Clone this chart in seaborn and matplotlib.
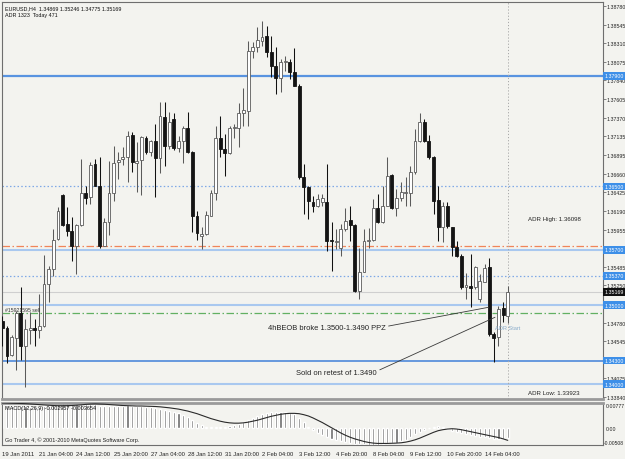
import numpy as np
import pandas as pd
import matplotlib
matplotlib.use("Agg")
import matplotlib.pyplot as plt
import matplotlib.transforms as mtransforms
import seaborn as sns

# ---------------- data (EURUSD H4) ----------------
opens = [1.34804, 1.34707, 1.34370, 1.34581, 1.34901, 1.34488, 1.34690, 1.34707, 1.34690, 1.34733,
         1.35267, 1.35457, 1.35836, 1.36392, 1.36026, 1.35941, 1.35743, 1.36017, 1.36418, 1.36367,
         1.36780, 1.36510, 1.35752, 1.36055, 1.36413, 1.36814, 1.36847, 1.36873, 1.37151, 1.36797,
         1.36830, 1.37108, 1.36940, 1.37079, 1.36856, 1.37382, 1.37016, 1.37353, 1.36982, 1.37071,
         1.37239, 1.36932, 1.36131, 1.35878, 1.35895, 1.36131, 1.36418, 1.37108, 1.36974, 1.36923,
         1.37235, 1.37243, 1.37429, 1.37458, 1.38217, 1.38268, 1.38344, 1.38399, 1.38205, 1.38019,
         1.37868, 1.38070, 1.38078, 1.37952, 1.37775, 1.36616, 1.36490, 1.36309, 1.36258, 1.36300,
         1.36309, 1.35824, 1.35803, 1.35719, 1.35963, 1.36077, 1.36014, 1.35184, 1.35424, 1.35816,
         1.35829, 1.36225, 1.36048, 1.36258, 1.36646, 1.36233, 1.36359, 1.36414, 1.36414, 1.36680,
         1.37071, 1.37312, 1.37080, 1.36878, 1.36330, 1.35985, 1.36250, 1.35993, 1.35732, 1.35626,
         1.35226, 1.35247, 1.35226, 1.35079, 1.35298, 1.35479, 1.34636, 1.34594, 1.34961, 1.34869]
highs = [1.34867, 1.34733, 1.34623, 1.34930, 1.35234, 1.34825, 1.34918, 1.34825, 1.35141, 1.35634,
         1.35499, 1.35963, 1.36236, 1.36405, 1.36236, 1.36110, 1.36026, 1.36847, 1.36510, 1.36814,
         1.36847, 1.36868, 1.36097, 1.36826, 1.37016, 1.36932, 1.36995, 1.37205, 1.37184, 1.37066,
         1.37142, 1.37142, 1.37092, 1.37290, 1.37563, 1.37563, 1.37437, 1.37429, 1.37142, 1.37260,
         1.37446, 1.36948, 1.36194, 1.35984, 1.36194, 1.36460, 1.37269, 1.37395, 1.37163, 1.37269,
         1.37285, 1.37555, 1.37741, 1.38343, 1.38323, 1.38512, 1.38597, 1.38533, 1.38407, 1.38260,
         1.38112, 1.38154, 1.38112, 1.38247, 1.37796, 1.36785, 1.36511, 1.36385, 1.36406, 1.36406,
         1.36785, 1.36048, 1.35963, 1.36027, 1.36225, 1.36258, 1.36027, 1.35719, 1.35963, 1.35972,
         1.36343, 1.36406, 1.36511, 1.36869, 1.36659, 1.36469, 1.36553, 1.36616, 1.36764, 1.37227,
         1.37430, 1.37354, 1.37152, 1.36890, 1.36511, 1.36300, 1.36309, 1.35993, 1.35816, 1.35647,
         1.35403, 1.35647, 1.35500, 1.35395, 1.35521, 1.35593, 1.34657, 1.34986, 1.35045, 1.35246]
lows = [1.34488, 1.34269, 1.34362, 1.34185, 1.34311, 1.33961, 1.34509, 1.34480, 1.34581, 1.34724,
        1.35044, 1.35373, 1.35828, 1.36005, 1.35878, 1.35562, 1.35394, 1.36005, 1.36274, 1.36279,
        1.36502, 1.35718, 1.35743, 1.35887, 1.36321, 1.36594, 1.36771, 1.36561, 1.36687, 1.36434,
        1.36392, 1.36910, 1.36889, 1.36363, 1.36670, 1.36763, 1.36974, 1.36965, 1.36940, 1.36797,
        1.36923, 1.35929, 1.35828, 1.35710, 1.35887, 1.36123, 1.36333, 1.36868, 1.36628, 1.36906,
        1.37108, 1.36995, 1.37269, 1.37265, 1.38120, 1.38196, 1.38281, 1.38133, 1.37880, 1.37670,
        1.37699, 1.37965, 1.37859, 1.37767, 1.36595, 1.36153, 1.36090, 1.36174, 1.36237, 1.36258,
        1.35690, 1.35437, 1.35711, 1.35626, 1.35942, 1.35816, 1.35163, 1.35079, 1.35416, 1.35723,
        1.35816, 1.36039, 1.36039, 1.36250, 1.36216, 1.36124, 1.36322, 1.36258, 1.36258, 1.36659,
        1.37059, 1.37067, 1.36848, 1.36153, 1.35808, 1.35795, 1.35976, 1.35618, 1.35605, 1.35205,
        1.35079, 1.34973, 1.35205, 1.35037, 1.35289, 1.34615, 1.34278, 1.34489, 1.34784, 1.34775]
closes = [1.34707, 1.34362, 1.34593, 1.34901, 1.34480, 1.34699, 1.34715, 1.34682, 1.34733, 1.35267,
          1.35457, 1.35828, 1.36194, 1.36013, 1.35941, 1.35743, 1.36017, 1.36418, 1.36359, 1.36771,
          1.36510, 1.35752, 1.36055, 1.36413, 1.36797, 1.36839, 1.36873, 1.37134, 1.36805, 1.36822,
          1.37121, 1.36940, 1.37079, 1.36856, 1.37387, 1.37007, 1.37311, 1.36982, 1.37071, 1.37235,
          1.36932, 1.36131, 1.35912, 1.35904, 1.36140, 1.36418, 1.37108, 1.36974, 1.36923, 1.37239,
          1.37252, 1.37429, 1.37467, 1.38217, 1.38260, 1.38352, 1.38394, 1.38205, 1.38019, 1.37868,
          1.38070, 1.38091, 1.37952, 1.37775, 1.36616, 1.36490, 1.36322, 1.36258, 1.36343, 1.36351,
          1.35816, 1.35812, 1.35816, 1.35963, 1.36069, 1.36014, 1.35184, 1.35424, 1.35816, 1.35829,
          1.36225, 1.36048, 1.36258, 1.36637, 1.36229, 1.36351, 1.36427, 1.36427, 1.36680, 1.37071,
          1.37312, 1.37080, 1.36869, 1.36322, 1.35985, 1.36250, 1.36006, 1.35732, 1.35626, 1.35226,
          1.35256, 1.35214, 1.35479, 1.35310, 1.35466, 1.34636, 1.34582, 1.34952, 1.34877, 1.35169]

macd_main = [0.0074, 0.0072, 0.0070, 0.0070, 0.0069, 0.0067, 0.0066, 0.0065, 0.0065, 0.0067,
             0.0069, 0.0072, 0.0075, 0.0077, 0.0077, 0.0075, 0.0075, 0.0076, 0.0075, 0.0076,
             0.0074, 0.0069, 0.0067, 0.0067, 0.0069, 0.0069, 0.0070, 0.0071, 0.0069, 0.0068,
             0.0068, 0.0066, 0.0064, 0.0061, 0.0060, 0.0056, 0.0054, 0.0050, 0.0046, 0.0042,
             0.0036, 0.0026, 0.0016, 0.0009, 0.0005, 0.0003, 0.0003, 0.0003, 0.0004, 0.0007,
             0.0010, 0.0014, 0.0020, 0.0026, 0.0033, 0.0039, 0.0045, 0.0048, 0.0050, 0.0051,
             0.0050, 0.0049, 0.0047, 0.0044, 0.0032, 0.0019, 0.0005, -0.0006, -0.0014, -0.0020,
             -0.0027, -0.0032, -0.0035, -0.0039, -0.0042, -0.0046, -0.0048, -0.0049, -0.0049, -0.0050,
             -0.00508, -0.0050, -0.0048, -0.0046, -0.0045, -0.0044, -0.0040, -0.0034, -0.0026, -0.0018,
             -0.0010, -0.0005, 0.0001, 0.0005, 0.0006, 0.0003, -0.0003, -0.0007, -0.0010, -0.0014,
             -0.0018, -0.0020, -0.0023, -0.0025, -0.0026, -0.0029, -0.0032, -0.0033, -0.0032, -0.002957]
macd_signal = [0.00777, 0.00774, 0.00770, 0.00766, 0.00762, 0.00756, 0.00748, 0.00738, 0.00728, 0.00718,
               0.00708, 0.00700, 0.00695, 0.00695, 0.00697, 0.00700, 0.00710, 0.00720, 0.00735, 0.00745,
               0.00750, 0.00745, 0.00740, 0.00730, 0.00720, 0.00710, 0.00700, 0.00695, 0.00690, 0.00685,
               0.00685, 0.00680, 0.00675, 0.00670, 0.00660, 0.00645, 0.00630, 0.00610, 0.00590, 0.00560,
               0.00530, 0.00490, 0.00450, 0.00400, 0.00350, 0.00300, 0.00260, 0.00220, 0.00190, 0.00170,
               0.00160, 0.00160, 0.00170, 0.00190, 0.00220, 0.00250, 0.00290, 0.00330, 0.00370, 0.00400,
               0.00430, 0.00450, 0.00460, 0.00460, 0.00450, 0.00420, 0.00380, 0.00320, 0.00250, 0.00180,
               0.00100, 0.00020, -0.00060, -0.00140, -0.00210, -0.00270, -0.00320, -0.00360, -0.00400, -0.00430,
               -0.00450, -0.00460, -0.00460, -0.00460, -0.00455, -0.00450, -0.00440, -0.00420, -0.00390, -0.00350,
               -0.00300, -0.00240, -0.00180, -0.00120, -0.00070, -0.00040, -0.00020, -0.00010, -0.00020, -0.00040,
               -0.00070, -0.00100, -0.00130, -0.00160, -0.00190, -0.00220, -0.00250, -0.00280, -0.00320, -0.003654]

time_labels = ["19 Jan 2011", "21 Jan 04:00", "24 Jan 12:00", "25 Jan 20:00", "27 Jan 04:00",
               "28 Jan 12:00", "31 Jan 20:00", "2 Feb 04:00", "3 Feb 12:00", "4 Feb 20:00",
               "8 Feb 04:00", "9 Feb 12:00", "10 Feb 20:00", "14 Feb 04:00"]

price_ticks = [1.38780, 1.38545, 1.38310, 1.38075, 1.37840, 1.37605, 1.37370, 1.37135, 1.36895,
               1.36660, 1.36425, 1.36190, 1.35955, 1.35485, 1.35250, 1.34780, 1.34545, 1.34075, 1.33840]
price_tick_labels = ["1.38780", "1.38545", "1.38310", "1.38075", "1.37840", "1.37605", "1.37370",
                     "1.37135", "1.36895", "1.36660", "1.36425", "1.36190", "1.35955", "1.35485",
                     "1.35250", "1.34780", "1.34545", "1.34075", "1.33840"]

solid_levels = [1.37900, 1.35700, 1.35000, 1.34300, 1.34000]
dotted_levels = [1.36500, 1.35370]
highlight_levels = [1.37900, 1.36500, 1.35700, 1.35370, 1.35000, 1.34300, 1.34000]
orange_level = 1.35752
green_level = 1.34901
bid_price = 1.35169
adr_high = 1.36098
adr_low = 1.33923

# ---------------- styling ----------------
sns.set_theme(style="white")
plt.rcParams["font.family"] = ["Liberation Sans", "DejaVu Sans"]
bg = "#f3f3ef"
W, H = 625, 460
FS = 4.4   # small terminal font
AXFS = 3.8  # right price-scale font

df = pd.DataFrame({"bar": np.arange(len(opens)), "open": opens, "high": highs,
                   "low": lows, "close": closes, "main": macd_main, "signal": macd_signal})

fig = plt.figure(figsize=(W / 100, H / 100), dpi=100)
fig.patch.set_facecolor(bg)
ax = fig.add_axes([2 / W, 60 / H, 601 / W, 397 / H])
ax2 = fig.add_axes([2 / W, 14 / H, 601 / W, 42 / H], sharex=ax)
for a in (ax, ax2):
    a.set_facecolor(bg)
    for s in a.spines.values():
        s.set_color("#6e6e6e")
        s.set_linewidth(0.8)
ax.spines["bottom"].set_color("#9a9a9a")
ax.spines["bottom"].set_linewidth(2.0)
ax2.spines["top"].set_color("#9a9a9a")
ax2.spines["top"].set_linewidth(2.0)

xlim = (-0.065, 129.54)
ax.set_xlim(*xlim)
ax.set_ylim(1.33814, 1.38832)

# level lines
ax.axhline(1.37900, color="#5893e0", lw=1.6, zorder=1)
for lv in solid_levels[1:]:
    if lv == 1.34300:
        ax.axhline(lv, color="#3f80d8", lw=1.1, zorder=1)
    else:
        ax.axhline(lv, color="#a9c8ef", lw=1.5, zorder=1)
for lv in dotted_levels:
    ax.axhline(lv, color="#7ea8e6", lw=0.9, ls=(0, (1.2, 1.8)), zorder=1)
ax.axhline(orange_level, color="#f0845a", lw=0.9, ls=(0, (6, 2, 1.2, 2)), zorder=1)
ax.axhline(green_level, color="#62b062", lw=0.9, ls=(0, (6, 2, 1.2, 2)), zorder=1)
ax.axhline(bid_price, color="#cfcfcf", lw=0.8, zorder=1)
ax.axvline(df["bar"].iloc[-1], color="#a8a8a8", lw=0.7, ls=(0, (1.2, 2)), zorder=1)

# candles
bull = df["close"] >= df["open"]
body_lo = np.minimum(df["open"], df["close"])
body_h = np.maximum(np.abs(df["close"] - df["open"]), 0.00003)
wick_cols = np.where(bull, "#5a5a5a", "#111111")
ax.vlines(df["bar"], df["low"], df["high"], colors=wick_cols, lw=0.75, zorder=3)
ax.bar(df["bar"], body_h, bottom=body_lo, width=0.62,
       color=np.where(bull, "#ffffff", "#141414"),
       edgecolor=np.where(bull, "#5a5a5a", "#141414"), linewidth=0.6, zorder=4)

# right price axis
ax.yaxis.tick_right()
ax.set_yticks(price_ticks)
ax.set_yticklabels(price_tick_labels)
ax.tick_params(axis="y", which="both", length=2, width=0.6, color="#6e6e6e",
               labelsize=AXFS, pad=0.4, labelcolor="#222222")
ax.tick_params(axis="x", bottom=False, labelbottom=False)
trans = mtransforms.blended_transform_factory(ax.transAxes, ax.transData)
for lv in highlight_levels:
    ax.text(1.0025, lv, f"{lv:.5f}", transform=trans, fontsize=AXFS, color="white",
            va="center", ha="left", zorder=10, clip_on=False,
            bbox=dict(boxstyle="square,pad=0.25", fc="#3d8fe8", ec="none"))
ax.text(1.0025, bid_price, f"{bid_price:.5f}", transform=trans, fontsize=AXFS, color="white",
        va="center", ha="left", zorder=10, clip_on=False,
        bbox=dict(boxstyle="square,pad=0.25", fc="#111111", ec="none"))

# texts on chart
fig.text(5 / W, 1 - 9 / H, "EURUSD,H4  1.34869 1.35246 1.34775 1.35169",
         fontsize=3.9, color="#111111", va="center", ha="left")
fig.text(5 / W, 1 - 15.5 / H, "ADR 1323  Today 471", fontsize=3.9, color="#111111",
         va="center", ha="left")
ax.text(113.4, adr_high, f"ADR High: {adr_high:.5f}", fontsize=FS, color="#222222",
        va="center", ha="left")
ax.text(113.4, 1.33890, f"ADR Low: {adr_low:.5f}", fontsize=FS, color="#222222",
        va="center", ha="left")
ax.text(0.6, 1.34943, "#15921595 sell", fontsize=3.7, color="#333333", va="center", ha="left")
ax.text(106.3, 1.34724, "ADR Start", fontsize=4.1, color="#8aaccb", va="center", ha="left", zorder=6)

ax.annotate("4hBEOB broke 1.3500-1.3490 PPZ", xy=(104.85, 1.34973), xytext=(82.6, 1.34724),
            fontsize=5.4, color="#222222", ha="right", va="center",
            arrowprops=dict(arrowstyle="-", color="#3a3a3a", lw=0.6, shrinkA=0, shrinkB=0,
                            relpos=(1.0, 0.55)), zorder=7)
ax.annotate("Sold on retest of 1.3490", xy=(106.25, 1.34847), xytext=(80.7, 1.34155),
            fontsize=5.4, color="#222222", ha="right", va="center",
            arrowprops=dict(arrowstyle="-", color="#3a3a3a", lw=0.6, shrinkA=0, shrinkB=0,
                            relpos=(1.0, 0.6)), zorder=7)

# MACD panel
ax2.bar(df["bar"], df["main"], width=0.45, color="#6a6a6a", zorder=2)
sns.lineplot(data=df, x="bar", y="signal", ax=ax2, color="#2a2a2a", lw=0.8, zorder=3)
ax2.set_ylim(-0.00508, 0.00777)
ax2.set_xlim(*xlim)
ax2.set_xlabel("")
ax2.set_ylabel("")
ax2.set_yticks([])
trans2 = mtransforms.blended_transform_factory(ax2.transAxes, ax2.transData)
ax2.text(1.004, 0.00777, "0.00777", transform=trans2, fontsize=AXFS, va="top", ha="left", color="#222222")
ax2.text(1.004, 0.0, "0.00", transform=trans2, fontsize=AXFS, va="center", ha="left", color="#222222")
ax2.text(1.002, -0.00508, "-0.00508", transform=trans2, fontsize=3.6, va="bottom", ha="left", color="#222222")
ax2.text(0.005, 0.96, "MACD(12,26,9) -0.002957 -0.003654", transform=ax2.transAxes,
         fontsize=4.0, va="top", ha="left", color="#111111", zorder=5)
ax2.text(0.005, 0.08, "Go Trader 4, \u00a9 2001-2010 MetaQuotes Software Corp.", transform=ax2.transAxes,
         fontsize=4.0, va="bottom", ha="left", color="#222222", zorder=5)

label_bars = list(range(0, len(opens), 8))[:len(time_labels)]
ax2.set_xticks(label_bars)
ax2.set_xticklabels(time_labels, ha="left")
ax2.tick_params(axis="x", length=3, width=0.6, color="#6e6e6e", labelsize=4.2, pad=1.5,
                direction="out", labelcolor="#222222")

fig.savefig("out.png", dpi=100, facecolor=bg)
